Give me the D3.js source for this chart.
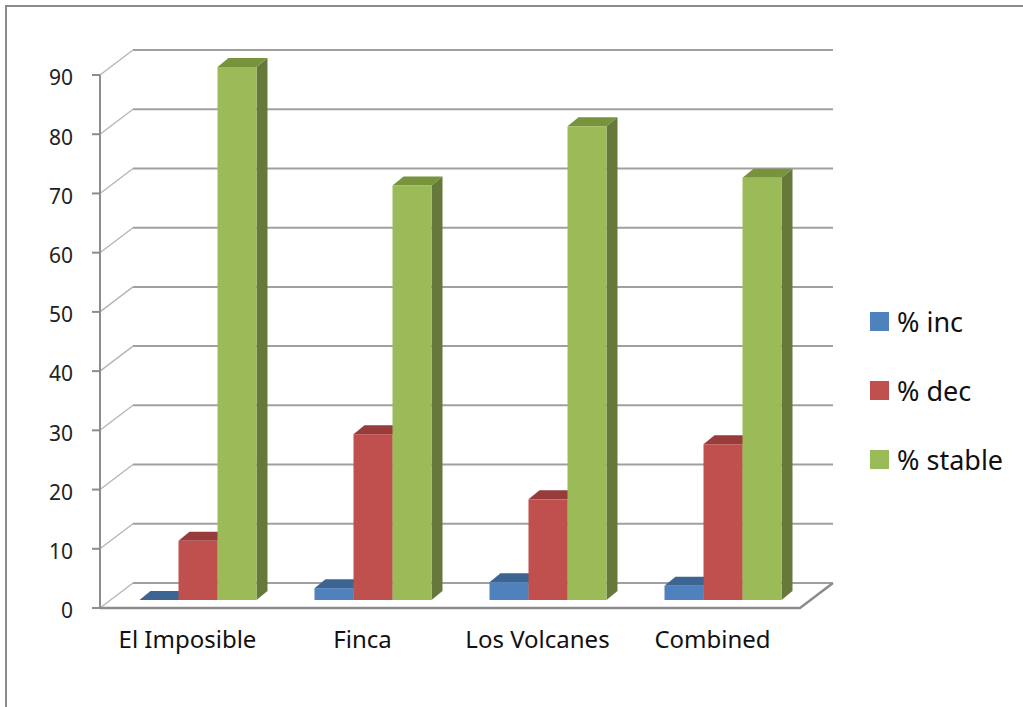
<!DOCTYPE html>
<html>
<head>
<meta charset="utf-8">
<script src="https://cdn.jsdelivr.net/npm/d3@7"></script>
<style>
  body { margin: 0; background: #fff; }
  svg { display: block; font-family: "Noto Sans", "Open Sans", sans-serif; }
</style>
</head>
<body>
<div id="chart"></div>
<script>
// data
const categories = ["El Imposible", "Finca", "Los Volcanes", "Combined"];
const seriesNames = ["% inc", "% dec", "% stable"];
const incValues = [0, 2, 3, 2.4];
const decValues = [10, 28, 17, 26.3];
const stableValues = [90, 70, 80, 71.3];
const yTicks = [0, 10, 20, 30, 40, 50, 60, 70, 80, 90];

const width = 1023, height = 707;
const colors = {
    front: ["#4f81bd", "#c0504d", "#9bbb59"],
    top: ["#3c6592", "#973c3a", "#77933c"],
    side: ["#2f5079", "#7d2f2d", "#66793a"]
};
const wall = { dx: 33, dy: -25 };   // depth of the back wall
const plane = { dx: 10.5, dy: -8 }; // where the bars stand
const depth = { dx: 11, dy: -9 };   // thickness of a bar
const grid = "#a0a0a0";

const svg = d3.select("#chart").append("svg")
    .attr("width", width)
    .attr("height", height);

// outer frame (cropped at right / bottom)
svg.append("path")
    .attr("d", "M6,707 L6,6 L1023,6")
    .attr("fill", "none")
    .attr("stroke", "#8c8c8c")
    .attr("stroke-width", 2);

const y = d3.scaleLinear().domain([0, 90]).range([608, 75]);
const x = d3.scaleBand().domain(categories).range([100, 800]);
const xSub = d3.scaleBand().domain(seriesNames).range([29, 146]);

// back wall gridlines + side wall diagonals
const g = svg.append("g");
g.selectAll("line.grid")
    .data(yTicks)
    .join("line")
    .attr("class", "grid")
    .attr("x1", 100 + wall.dx).attr("x2", 800 + wall.dx)
    .attr("y1", d => y(d) + wall.dy).attr("y2", d => y(d) + wall.dy)
    .attr("stroke", grid).attr("stroke-width", 2);
g.selectAll("line.diag")
    .data(yTicks)
    .join("line")
    .attr("class", "diag")
    .attr("x1", 100).attr("x2", 100 + wall.dx)
    .attr("y1", d => y(d)).attr("y2", d => y(d) + wall.dy)
    .attr("stroke", "#b4b4b4").attr("stroke-width", 1.3);

// floor front edge and right diagonal
g.append("path")
    .attr("d", `M100,${y(0)} L800,${y(0)} L${800 + wall.dx},${y(0) + wall.dy}`)
    .attr("fill", "none")
    .attr("stroke", "#8c8c8c")
    .attr("stroke-width", 2.5);

// y axis
g.append("line")
    .attr("x1", 100).attr("x2", 100)
    .attr("y1", y(90)).attr("y2", y(0))
    .attr("stroke", "#8c8c8c").attr("stroke-width", 2);
g.selectAll("line.tick")
    .data(yTicks)
    .join("line")
    .attr("class", "tick")
    .attr("x1", 92).attr("x2", 100)
    .attr("y1", d => y(d)).attr("y2", d => y(d))
    .attr("stroke", "#8c8c8c").attr("stroke-width", 2);
g.selectAll("text.ylab")
    .data(yTicks)
    .join("text")
    .attr("class", "ylab")
    .attr("x", 73)
    .attr("y", d => y(d) + 3)
    .attr("dy", "0.35em")
    .attr("text-anchor", "end")
    .attr("font-size", 21)
    .attr("fill", "#222")
    .text(d => d);

// bars
const rows = categories.map((c, i) => ({
    cat: c,
    values: [incValues[i], decValues[i], stableValues[i]]
}));
const bars = [];
rows.forEach(r => r.values.forEach((v, s) => bars.push({ cat: r.cat, s: s, v: v })));

const barW = xSub.bandwidth();
const pts = a => a.map(p => p.join(",")).join(" ");
const barG = svg.append("g");
bars.forEach(b => {
    const x0 = x(b.cat) + xSub(seriesNames[b.s]) + plane.dx;
    const x1 = x0 + barW;
    const yTop = y(b.v) + plane.dy;
    const yBot = y(0) + plane.dy;
    const bg = barG.append("g");
    bg.append("polygon")
        .attr("points", pts([[x1, yTop], [x1 + depth.dx, yTop + depth.dy], [x1 + depth.dx, yBot + depth.dy], [x1, yBot]]))
        .attr("fill", colors.side[b.s]);
    bg.append("polygon")
        .attr("points", pts([[x0, yTop], [x1, yTop], [x1 + depth.dx, yTop + depth.dy], [x0 + depth.dx, yTop + depth.dy]]))
        .attr("fill", colors.top[b.s]);
    bg.append("rect")
        .attr("x", x0).attr("y", yTop)
        .attr("width", barW).attr("height", yBot - yTop)
        .attr("fill", colors.front[b.s]);
});

// category labels
svg.selectAll("text.xlab")
    .data(categories)
    .join("text")
    .attr("class", "xlab")
    .attr("x", d => x(d) + x.bandwidth() / 2)
    .attr("y", 648)
    .attr("text-anchor", "middle")
    .attr("font-size", 24)
    .attr("fill", "#111")
    .text(d => d);

// legend
const leg = svg.append("g").selectAll("g")
    .data(seriesNames)
    .join("g")
    .attr("transform", (d, i) => `translate(870, ${332 + i * 69})`);
leg.append("rect")
    .attr("x", 0).attr("y", -20)
    .attr("width", 19).attr("height", 19)
    .attr("fill", (d, i) => colors.front[i]);
leg.append("text")
    .attr("x", 27).attr("y", 0)
    .attr("font-size", 27)
    .attr("fill", "#111")
    .text(d => d);
</script>
</body>
</html>
